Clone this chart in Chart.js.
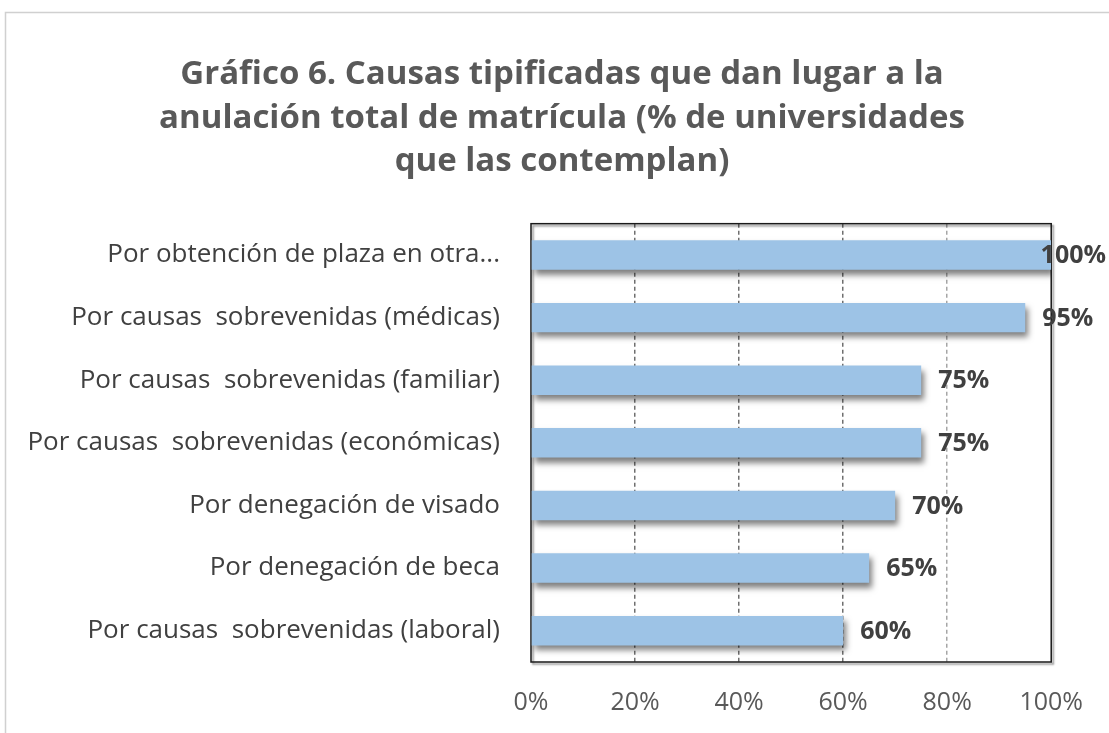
<!DOCTYPE html>
<html>
<head>
<meta charset="utf-8">
<script src="https://cdn.jsdelivr.net/npm/chart.js@4.4.1/dist/chart.umd.min.js"></script>
<style>
  html, body { margin: 0; padding: 0; background: #ffffff; }
  #c { display: block; }
</style>
</head>
<body>
<canvas id="c" width="1109" height="733"></canvas>
<script>
const categories = [
  'Por obtención de plaza en otra...',
  'Por causas  sobrevenidas (médicas)',
  'Por causas  sobrevenidas (familiar)',
  'Por causas  sobrevenidas (económicas)',
  'Por denegación de visado',
  'Por denegación de beca',
  'Por causas  sobrevenidas (laboral)'
];
const values = [100, 95, 75, 75, 70, 65, 60];
const tickValues = [0, 20, 40, 60, 80, 100];
const tickLabels = ['0%', '20%', '40%', '60%', '80%', '100%'];
const titleLines = [
  'Gráfico 6. Causas tipificadas que dan lugar a la',
  'anulación total de matrícula (% de universidades',
  'que las contemplan)'
];

const FONT = '"Open Sans", Lato, sans-serif';

const framePlugin = {
  id: 'frame',
  afterLayout(chart) {
    // centre the title block over the figure as in the original
    if (chart.titleBlock) chart.titleBlock.left = 72;
  },
  beforeDraw(chart) {
    const ctx = chart.ctx;
    ctx.save();
    ctx.fillStyle = '#ffffff';
    ctx.fillRect(0, 0, chart.width, chart.height);
    ctx.strokeStyle = '#d0d0d0';
    ctx.lineWidth = 1.5;
    ctx.strokeRect(5.5, 12.5, chart.width + 20, chart.height + 20);
    ctx.restore();
  },
  beforeDatasetsDraw(chart) {
    const a = chart.chartArea;
    const ctx = chart.ctx;
    ctx.save();
    ctx.strokeStyle = '#1a1a1a';
    ctx.lineWidth = 1.5;
    ctx.shadowColor = 'rgba(0,0,0,0.45)';
    ctx.shadowOffsetX = 2;
    ctx.shadowOffsetY = 2;
    ctx.shadowBlur = 2;
    ctx.strokeRect(a.left, a.top, a.right - a.left, a.bottom - a.top);
    ctx.restore();
  }
};

const shadowPlugin = {
  id: 'barShadow',
  beforeDatasetDraw(chart) {
    const ctx = chart.ctx;
    ctx.save();
    ctx.shadowColor = 'rgba(0,0,0,0.5)';
    ctx.shadowOffsetX = 3;
    ctx.shadowOffsetY = 5;
    ctx.shadowBlur = 6;
  },
  afterDatasetDraw(chart) {
    chart.ctx.restore();
  }
};

const labelPlugin = {
  id: 'valueLabels',
  afterDatasetsDraw(chart) {
    const ctx = chart.ctx;
    const meta = chart.getDatasetMeta(0);
    ctx.save();
    ctx.font = 'bold 25px ' + FONT;
    ctx.fillStyle = '#404040';
    ctx.textBaseline = 'middle';
    ctx.textAlign = 'left';
    meta.data.forEach((bar, i) => {
      const txt = values[i] + '%';
      const w = ctx.measureText(txt).width;
      let x = bar.x + 17;
      if (x + w > chart.width - 3) x = chart.width - 3 - w;
      ctx.fillText(txt, x, bar.y + 1);
    });
    ctx.restore();
  }
};

new Chart(document.getElementById('c'), {
  type: 'bar',
  data: {
    labels: categories,
    datasets: [{
      data: values,
      backgroundColor: '#9dc3e6',
      borderWidth: 0,
      categoryPercentage: 1,
      barPercentage: 0.47
    }]
  },
  options: {
    indexAxis: 'y',
    responsive: false,
    animation: false,
    devicePixelRatio: 1,
    layout: { padding: { top: 14, right: 57, bottom: 0, left: 0 } },
    plugins: {
      legend: { display: false },
      tooltip: { enabled: false },
      title: {
        display: true,
        text: titleLines,
        color: '#595959',
        font: { family: FONT, size: 33, weight: 'bold', lineHeight: 1.32 },
        padding: { top: 39, bottom: 40 }
      }
    },
    scales: {
      x: {
        min: 0,
        max: 100,
        afterBuildTicks(scale) { scale.ticks = tickValues.map(v => ({ value: v })); },
        afterFit(scale) { scale.height = 71; },
        grid: {
          drawTicks: false,
          color: ctx => (ctx.tick && (ctx.tick.value === 0 || ctx.tick.value === 100)) ? 'rgba(0,0,0,0)' : (ctx.tick && ctx.tick.value === 80 ? '#a6a6a6' : '#6f6f6f'),
          lineWidth: 1.5
        },
        border: { display: false, dash: [4, 3] },
        ticks: {
          padding: 26,
          color: '#595959',
          font: { family: FONT, size: 25 },
          callback: (v, i) => tickLabels[i]
        }
      },
      y: {
        afterFit(scale) { scale.width = 531; },
        border: { display: false },
        grid: { display: false, drawTicks: false },
        ticks: {
          padding: 31,
          color: '#404040',
          font: { family: FONT, size: 26 }
        }
      }
    }
  },
  plugins: [framePlugin, shadowPlugin, labelPlugin]
});
</script>
</body>
</html>
